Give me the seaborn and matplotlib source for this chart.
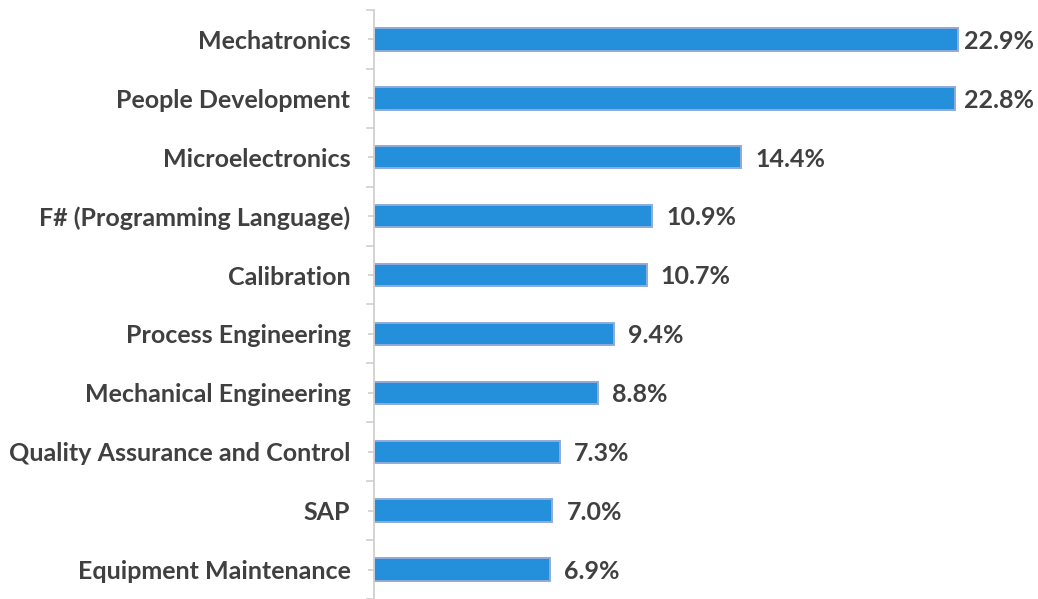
import matplotlib
matplotlib.use("Agg")
import matplotlib.pyplot as plt
import seaborn as sns
import pandas as pd

# values (percent)
skills = ["Mechatronics", "People Development", "Microelectronics",
          "F# (Programming Language)", "Calibration", "Process Engineering",
          "Mechanical Engineering", "Quality Assurance and Control", "SAP",
          "Equipment Maintenance"]
shares = [22.9, 22.8, 14.4, 10.9, 10.7, 9.4, 8.8, 7.3, 7.0, 6.9]

df = pd.DataFrame({"skill": skills, "share": shares})

sns.set_style("white")
plt.rcParams["font.family"] = ["Lato", "DejaVu Sans"]

fig = plt.figure(figsize=(10.38, 5.99), dpi=100)
ax = fig.add_axes([0.3603, 0.0, 1000 / 1038 - 0.3603, 589 / 599])

sns.barplot(data=df, x="share", y="skill", orient="h", color="#2490DC",
            saturation=1, width=0.38, edgecolor="#8FAADC", linewidth=1.4, ax=ax)

ax.set_xlim(0, (1000 - 374) / 25.5)
ax.set_ylim(len(skills) - 0.5, -0.5)

# value labels (labels near the right edge get pulled in so they fit)
for i, v in enumerate(shares):
    ax.text(min(v + 0.55, 23.15), i + 0.03, f"{v:.1f}%", va="center", ha="left",
            fontsize=18, fontweight="bold", color="#404040", clip_on=False)

ax.set_xlabel("")
ax.set_ylabel("")
ax.set_xticks([])
for side in ["top", "right", "bottom"]:
    ax.spines[side].set_visible(False)
ax.spines["left"].set_color("#D0D0D0")
ax.spines["left"].set_linewidth(1.3)

ax.set_yticks(range(len(skills)))
ax.set_yticklabels(skills, fontsize=18, fontweight="bold", color="#404040")
ax.set_yticks([i - 0.5 for i in range(len(skills) + 1)], minor=True)
ax.tick_params(axis="y", which="major", direction="inout", length=8,
               width=1.2, color="#D0D0D0", pad=13, left=True)
ax.tick_params(axis="y", which="minor", direction="out", length=6,
               width=1.2, color="#D0D0D0", left=True)

fig.savefig("out.png", dpi=100)
